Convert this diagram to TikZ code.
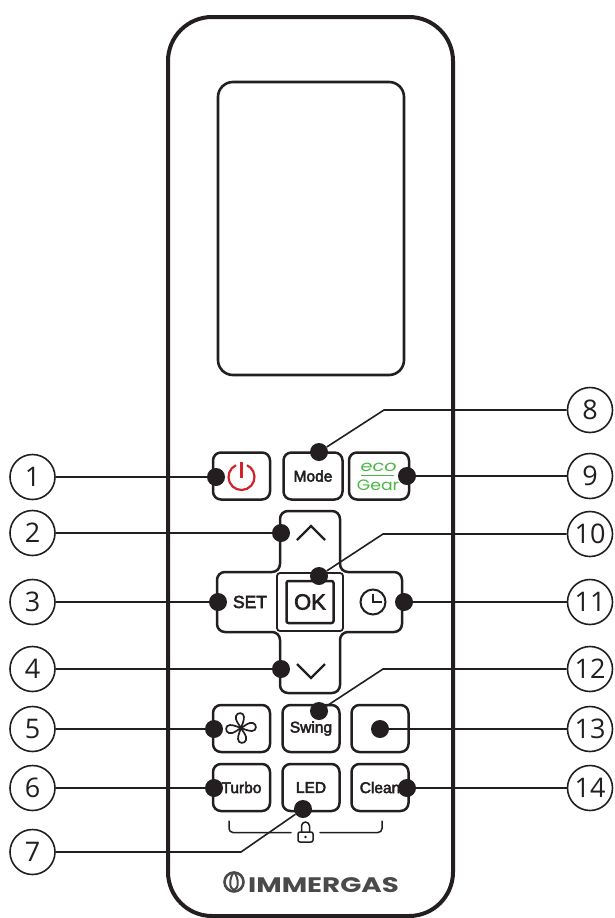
\documentclass[tikz,border=0pt]{standalone}
\usepackage{fontspec}
\setmainfont{Liberation Sans}
\newfontfamily\btnfont[FakeBold=3]{Liberation Sans}
\newfontfamily\numfont{Open Sans}
\newfontfamily\ecofont[FakeStretch=1.3,FakeSlant=0.15]{Poppins}
\newfontfamily\gearfont[FakeStretch=1.15]{Poppins}
\newfontfamily\logofont[FakeStretch=1.32]{Poppins}
\usetikzlibrary{positioning}
\definecolor{ink}{HTML}{231f20}
\definecolor{pwrRed}{HTML}{d2232a}
\definecolor{ecoGreen}{HTML}{4cb848}
\definecolor{logoGrey}{HTML}{4a4a4a}
\begin{document}
\begin{tikzpicture}[x=1pt,y=-1pt,
  btn/.style={draw=ink, line width=2.5pt, fill=white, rounded corners=8pt, minimum width=57pt, minimum height=47pt, inner sep=0pt, text=ink, font=\btnfont\fontsize{15.5}{15.5}\selectfont},
  callout/.style={circle, draw=ink, line width=1.6pt, fill=white, minimum size=45pt, inner sep=0pt, text=ink, font=\numfont\fontsize{27}{27}\selectfont},
  dotmark/.style={circle, fill=ink, minimum size=18pt, inner sep=0pt},
  lead/.style={draw=ink, line width=1.6pt},
  thinline/.style={draw=ink, line width=1.5pt, line cap=round}]
\useasboundingbox (0,0) rectangle (614,918);
% body and screen
\draw[draw=ink, line width=4pt, rounded corners=44pt] (168,17) rectangle (453,916);
\draw[draw=ink, line width=2.6pt, rounded corners=15pt] (218,82) rectangle (404,375);
% cross pad
\draw[draw=ink, line width=2.5pt, fill=white, rounded corners=8pt] (280,511) -- (340,511) -- (340,572) -- (402,572) -- (402,632) -- (340,632) -- (340,693) -- (280,693) -- (280,632) -- (217,632) -- (217,572) -- (280,572) -- cycle;
\node[font=\btnfont\fontsize{17.5}{18}\selectfont, text=ink] (set) at (250,602) {SET};
\node[draw=ink, line width=1.8pt, fill=white, rounded corners=3pt, minimum width=66pt, minimum height=58pt] (okouter) at (310,602) {};
\node[draw=ink, line width=2.5pt, fill=white, rounded corners=2pt, minimum width=47pt, minimum height=42pt, font=\btnfont\fontsize{22}{22}\selectfont, text=ink, inner sep=0pt] (ok) at (okouter) {OK};
\draw[draw=ink, line width=2.2pt] (297,540) -- (311,526) -- (325,540);
\draw[draw=ink, line width=2.2pt] (297,664) -- (311,678) -- (325,664);
\draw[draw=ink, line width=2pt] (373,602) circle (12.5pt);
\draw[draw=ink, line width=2pt] (373,594) -- (373,602) -- (382,602);
% buttons
\node[btn] (power) at (241.5,476) {};
\draw[draw=pwrRed, line width=2.2pt] (236,465.2) arc[start angle=115, end angle=425, radius=13pt];
\draw[draw=pwrRed, line width=2.2pt] (241.5,462) -- (241.5,478);
\node[btn, right=11pt of power, minimum width=59pt] (mode) {Mode};
\node[btn, right=4pt of mode, minimum width=60pt] (eco) {};
\node[text=ecoGreen, font=\ecofont\fontsize{15}{15}\selectfont, inner sep=0pt] (ecotxt) at (378,467) {eco};
\node[text=ecoGreen, font=\gearfont\fontsize{15}{15}\selectfont, inner sep=0pt] (geartxt) at (378,485) {Gear};
\draw[draw=ecoGreen, line width=1pt] (361,475.5) -- (394,475.5);
\node[btn] (fan) at (241.5,728.5) {};
\begin{scope}[shift={(241,728)}]
\foreach \a in {0,90,180,270}
  \draw[draw=ink, line width=1.7pt, rotate=\a] (0,0) .. controls (-2,-4) and (-6,-7) .. (-5,-12) .. controls (-4,-16) and (3,-16) .. (3,-11) .. controls (3,-7) and (1,-3) .. (0,0);
\end{scope}
\node[btn] (swing) at (311,728.5) {Swing};
\node[btn] (blank) at (380,728.5) {};
\node[btn, below=9.5pt of fan] (turbo) {Turbo};
\node[btn, below=9.5pt of swing] (led) {LED};
\node[btn, below=9.5pt of blank] (clean) {Clean};
% lock group
\draw[thinline, rounded corners=4pt] (229,821) -- (229,832.5) -- (291,832.5);
\draw[thinline, rounded corners=4pt] (382,821) -- (382,832.5) -- (320,832.5);
\draw[draw=ink, line width=1.5pt, rounded corners=2pt] (298,832) rectangle (313,842);
\draw[draw=ink, line width=1.5pt] (301.5,832) -- (301.5,826) arc[start angle=180, end angle=0, radius=4pt] -- (309.5,832);
\fill[ink] (305.5,837) circle (1.3pt);
% logo
\draw[draw=logoGrey, line width=2.6pt] (234,882) circle (9.5pt);
\draw[draw=logoGrey, line width=2pt] (234,872) .. controls (229,878) and (229,889) .. (234,890) .. controls (239,889) and (239,878) .. (234,872);
\node[text=logoGrey, font=\logofont\bfseries\fontsize{21}{21}\selectfont, inner sep=0pt] (logo) at (323.5,885) {IMMERGAS};
% callouts
\foreach \n/\y in {1/477,2/533,3/602,4/669,5/729,6/788,7/852}
  \node[callout] (c\n) at (32.5,\y) {\n};
\foreach \n/\y in {8/410,9/476,10/534,11/602,12/669,13/729,14/788}
  \node[callout] (c\n) at (590,\y) {\n};
% markers
\node[dotmark] (m1) at (216,477) {};
\node[dotmark] (m2) at (281,533) {};
\node[dotmark] (m3) at (218,602) {};
\node[dotmark] (m4) at (281,669) {};
\node[dotmark] (m5) at (214,729) {};
\node[dotmark] (m6) at (214,788) {};
\node[dotmark] (m7) at (303,809) {};
\node[dotmark] (m8) at (319,452) {};
\node[dotmark] (m9) at (407,476) {};
\node[dotmark] (m10) at (319,576) {};
\node[dotmark] (m11) at (404,602) {};
\node[dotmark] (m12) at (319,711) {};
\node[dotmark] (m13) at (380,729) {};
\node[dotmark] (m14) at (407,788) {};
% leaders
\foreach \n in {1,2,3,4,5,6,9,11,13,14}
  \draw[lead] (c\n) -- (m\n);
\coordinate (k7) at (241,852);
\coordinate (k8) at (384,410);
\coordinate (k10) at (383,534);
\coordinate (k12) at (383,669);
\foreach \n in {7,8,10,12}
  \draw[lead] (c\n) -- (k\n) -- (m\n);
\end{tikzpicture}
\end{document}
